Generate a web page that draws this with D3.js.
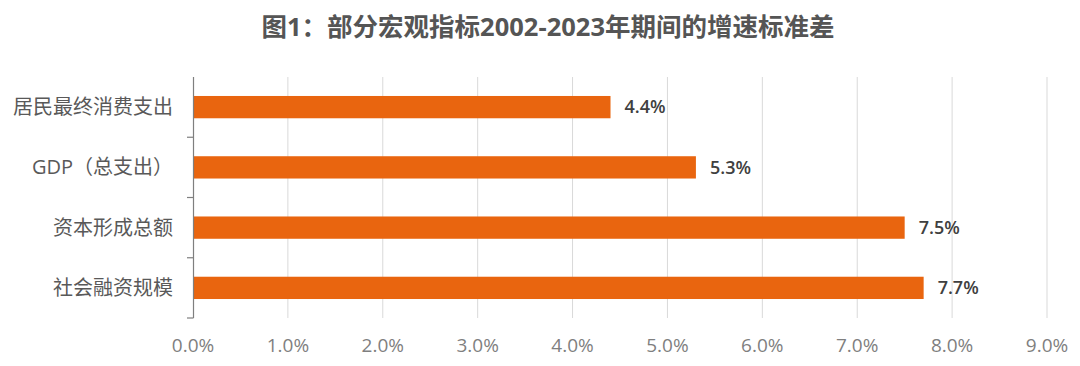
<!DOCTYPE html>
<html>
<head>
<meta charset="utf-8">
<script src="https://cdn.jsdelivr.net/npm/d3@7"></script>
<style>
  body { margin: 0; background: #fff; }
  text { font-family: "Open Sans", "Noto Sans CJK SC", sans-serif; }
</style>
</head>
<body>
<div id="chart"></div>
<script>
// Data
const categories = ["居民最终消费支出", "GDP（总支出）", "资本形成总额", "社会融资规模"];
const values = [4.4, 5.3, 7.5, 7.7];
const ticks = [0, 1, 2, 3, 4, 5, 6, 7, 8, 9];
const title = "图1：部分宏观指标2002-2023年期间的增速标准差";

const W = 1080, H = 366;
const margin = { top: 77, right: 33, bottom: 48, left: 193 };
const width = W - margin.left - margin.right;
const height = H - margin.top - margin.bottom;

const svg = d3.select("#chart").append("svg")
    .attr("width", W)
    .attr("height", H);

// Title
svg.append("text")
    .attr("x", 548)
    .attr("y", 36)
    .attr("text-anchor", "middle")
    .attr("font-family", "'Noto Sans CJK SC', sans-serif")
    .attr("font-weight", "bold")
    .attr("font-size", 25.5)
    .attr("fill", "#555555")
    .text(title);

const g = svg.append("g")
    .attr("transform", `translate(${margin.left},${margin.top})`);

const x = d3.scaleLinear().domain([0, 9]).range([0, width]);
const y = d3.scaleBand().domain(categories).range([0, height]).paddingInner(0.63).paddingOuter(0.315);

// Gridlines
g.append("g")
    .selectAll("line")
    .data(ticks.slice(1))
    .enter()
    .append("line")
    .attr("x1", d => x(d))
    .attr("x2", d => x(d))
    .attr("y1", 0)
    .attr("y2", height)
    .attr("stroke", "#d9d9d9")
    .attr("stroke-width", 1);

// Bars
g.append("g")
    .selectAll("rect")
    .data(values)
    .enter()
    .append("rect")
    .attr("x", 0)
    .attr("y", (d, i) => y(categories[i]))
    .attr("width", d => x(d))
    .attr("height", y.bandwidth())
    .attr("fill", "#E9650F");

// Value labels
g.append("g")
    .selectAll("text")
    .data(values)
    .enter()
    .append("text")
    .attr("x", d => x(d) + 14)
    .attr("y", (d, i) => y(categories[i]) + y.bandwidth() / 2)
    .attr("dy", "0.35em")
    .attr("font-size", 18)
    .attr("font-weight", 600)
    .attr("fill", "#404040")
    .text(d => d.toFixed(1) + "%");

// Y axis line with category separator ticks
const step = height / categories.length;
g.append("line")
    .attr("x1", 0.5).attr("x2", 0.5)
    .attr("y1", 0).attr("y2", height)
    .attr("stroke", "#7f7f7f")
    .attr("stroke-width", 1.2);

g.append("g")
    .selectAll("line")
    .data(d3.range(categories.length + 1).slice(1))
    .enter()
    .append("line")
    .attr("x1", -6).attr("x2", 0.5)
    .attr("y1", d => d * step)
    .attr("y2", d => d * step)
    .attr("stroke", "#7f7f7f")
    .attr("stroke-width", 1.2);

// Category labels
g.append("g")
    .selectAll("text")
    .data(categories)
    .enter()
    .append("text")
    .attr("x", -20)
    .attr("y", d => y(d) + y.bandwidth() / 2)
    .attr("dy", "0.35em")
    .attr("text-anchor", "end")
    .attr("font-family", "'Noto Sans CJK SC', sans-serif")
    .attr("font-size", 20)
    .attr("fill", "#595959")
    .text(d => d);

// X tick labels
g.append("g")
    .selectAll("text")
    .data(ticks)
    .enter()
    .append("text")
    .attr("x", d => x(d))
    .attr("y", height + 27)
    .attr("dy", "0.35em")
    .attr("text-anchor", "middle")
    .attr("font-size", 19)
    .attr("fill", "#7f7f7f")
    .text(d => d.toFixed(1) + "%");
</script>
</body>
</html>
